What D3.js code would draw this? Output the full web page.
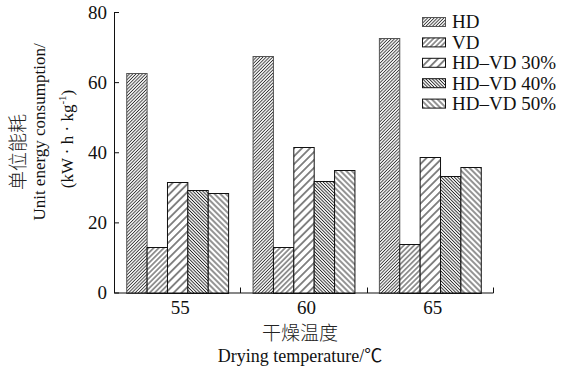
<!DOCTYPE html>
<html>
<head>
<meta charset="utf-8">
<script src="https://cdn.jsdelivr.net/npm/d3@7"></script>
<style>
  body { margin: 0; background: #fff; }
  svg { display: block; }
  text { font-family: "Liberation Serif", "Times New Roman", "Noto Sans CJK SC", serif; fill: #111; }
  .cjk { font-family: "Noto Sans CJK SC", sans-serif; font-weight: 300; fill: #222; }
</style>
</head>
<body>
<div id="chart"></div>
<script>
// drying temperatures (°C)
const temps = ["55", "60", "65"];
const seriesNames = ["HD", "VD", "HD–VD 30%", "HD–VD 40%", "HD–VD 50%"];
// unit energy consumption, kW·h/kg
const hd = [62.7, 67.4, 72.6];
const vd = [13.0, 13.0, 13.7];
const hdvd30 = [31.4, 41.4, 38.7];
const hdvd40 = [29.2, 31.7, 33.3];
const hdvd50 = [28.4, 35.0, 35.9];
const yTicks = [0, 20, 40, 60, 80];

const seriesValues = [hd, vd, hdvd30, hdvd40, hdvd50];

const width = 561;
const height = 368;
const margin = { top: 12, right: 68, bottom: 75, left: 114 };

const svg = d3.select("#chart")
  .append("svg")
  .attr("width", width)
  .attr("height", height);

// hatch patterns: [angle, spacing, stroke width, colour]
const hatches = [
  [45, 2.3, 0.9, "#333"],
  [45, 3.6, 0.9, "#111"],
  [45, 5.6, 1.0, "#111"],
  [-45, 2.3, 0.9, "#222"],
  [-45, 4.0, 0.9, "#111"]
];
const defs = svg.append("defs");
hatches.forEach((h, i) => {
  const p = defs.append("pattern")
    .attr("id", "hatch" + i)
    .attr("patternUnits", "userSpaceOnUse")
    .attr("width", h[1])
    .attr("height", 10)
    .attr("patternTransform", `rotate(${h[0]})`);
  p.append("rect").attr("width", h[1]).attr("height", 10).attr("fill", "#fff");
  p.append("line")
    .attr("x1", h[1] / 2).attr("x2", h[1] / 2)
    .attr("y1", 0).attr("y2", 10)
    .attr("stroke", h[3])
    .attr("stroke-width", h[2]);
});

const x0 = d3.scaleBand()
  .domain(temps)
  .range([margin.left, width - margin.right]);

const x1 = d3.scaleBand()
  .domain(seriesNames)
  .range([0, x0.bandwidth()])
  .paddingOuter(0.6);

const y = d3.scaleLinear()
  .domain([0, 80])
  .range([height - margin.bottom - 0.5, margin.top]);

// bars
const groups = svg.append("g")
  .selectAll("g")
  .data(temps)
  .join("g")
  .attr("transform", d => `translate(${x0(d)},0)`);

groups.selectAll("rect")
  .data((d, ti) => seriesNames.map((s, si) => ({ s, si, v: seriesValues[si][ti] })))
  .join("rect")
  .attr("x", d => x1(d.s) + 0.5)
  .attr("y", d => Math.round(y(d.v)) + 0.5)
  .attr("width", x1.bandwidth())
  .attr("height", d => Math.round(y(0)) - Math.round(y(d.v)))
  .attr("fill", d => `url(#hatch${d.si})`)
  .attr("stroke", d => d.si === 0 ? "#555" : "#111")
  .attr("stroke-width", 1);

// y axis
const yAxis = d3.axisLeft(y)
  .tickValues(yTicks)
  .tickSize(-5)
  .tickSizeOuter(0)
  .tickPadding(7);

svg.append("g")
  .attr("transform", `translate(${margin.left},0)`)
  .call(yAxis)
  .call(g => g.selectAll("text")
    .attr("font-size", 19)
    .attr("font-family", "Liberation Serif, serif"))
  .call(g => g.selectAll("line, path").attr("stroke", "#111"));

// x axis
const xAxis = d3.axisBottom(x0)
  .tickSize(0)
  .tickSizeOuter(0)
  .tickPadding(8);

svg.append("g")
  .attr("transform", `translate(0,${y(0)})`)
  .call(xAxis)
  .call(g => g.selectAll("text")
    .attr("font-size", 19)
    .attr("font-family", "Liberation Serif, serif")
    .attr("dx", 3))
  .call(g => g.select(".domain").attr("stroke", "#111"))
  .call(g => g.selectAll(".sep")
    .data(temps)
    .join("line")
    .attr("class", "sep")
    .attr("x1", d => Math.round(x0(d) + x0.step()) + 0.5)
    .attr("x2", d => Math.round(x0(d) + x0.step()) + 0.5)
    .attr("y1", 0.5)
    .attr("y2", -5)
    .attr("stroke", "#111"));

// axis titles
svg.append("text")
  .attr("class", "cjk")
  .attr("x", 300)
  .attr("y", 340)
  .attr("text-anchor", "middle")
  .attr("font-size", 19)
  .text("干燥温度");

svg.append("text")
  .attr("x", 300)
  .attr("y", 362)
  .attr("text-anchor", "middle")
  .attr("font-size", 18)
  .text("Drying temperature/℃");

svg.append("text")
  .attr("class", "cjk")
  .attr("transform", "translate(25,152) rotate(-90)")
  .attr("text-anchor", "middle")
  .attr("font-size", 19)
  .text("单位能耗");

svg.append("text")
  .attr("transform", "translate(45,132) rotate(-90)")
  .attr("text-anchor", "middle")
  .attr("font-size", 17)
  .text("Unit energy consumption/");

const unit = svg.append("text")
  .attr("transform", "translate(73,139) rotate(-90)")
  .attr("text-anchor", "middle")
  .attr("font-size", 17);
unit.append("tspan").text("(kW · h · kg");
unit.append("tspan").attr("font-size", 11).attr("dy", -7).text("-1");
unit.append("tspan").attr("dy", 7).text(")");

// legend
const legend = svg.append("g")
  .selectAll("g")
  .data(seriesNames)
  .join("g")
  .attr("transform", (d, i) => `translate(422,${22 + i * 20.4})`);

legend.append("rect")
  .attr("x", 0.5)
  .attr("y", -4.5)
  .attr("width", 23)
  .attr("height", 9)
  .attr("fill", (d, i) => `url(#hatch${i})`)
  .attr("stroke", (d, i) => i === 0 ? "#555" : "#111");

legend.append("text")
  .attr("x", 30)
  .attr("dy", "0.34em")
  .attr("font-size", 19)
  .text(d => d);
</script>
</body>
</html>
